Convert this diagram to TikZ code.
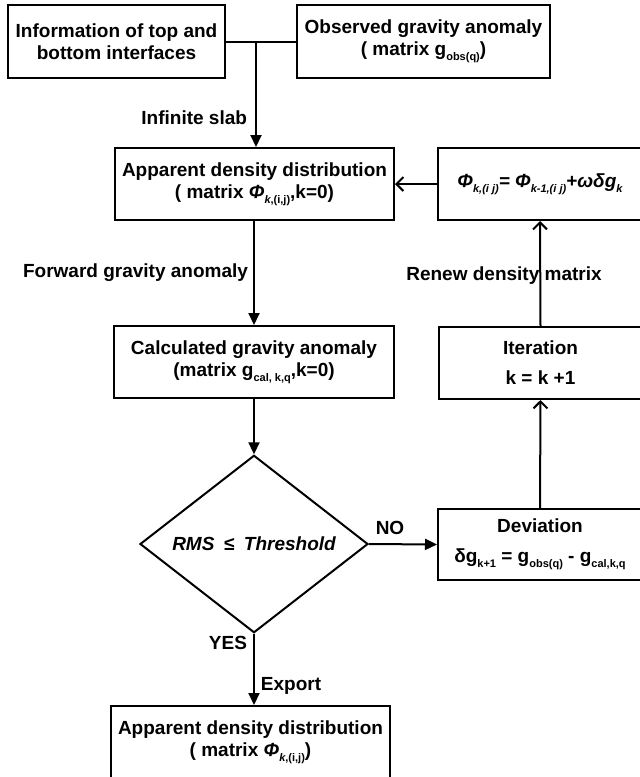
\documentclass[tikz,border=0pt]{standalone}
\usepackage{fontspec}
\setmainfont{Liberation Sans}
\usetikzlibrary{arrows.meta,shapes.geometric}
\newcommand\subx[1]{\raisebox{-0.28em}{\fontsize{11}{11}\selectfont #1}}
\tikzset{
  box/.style={draw, rectangle, inner sep=0pt, align=center},
  lbl/.style={inner sep=0pt},
  fwd/.style={-{Triangle[length=12pt,width=11pt]}},
  back/.style={-{Straight Barb[length=7pt,width=14pt]}}
}
\begin{document}
\begin{tikzpicture}[x=1pt,y=-1pt,line width=2pt,
  font=\fontsize{19}{22}\selectfont\bfseries]
\useasboundingbox (0,0) rectangle (640,777);
% nodes
\node[box, minimum width=217pt, minimum height=73pt] (info) at (116.5,41.5)
  {Information of top and\\bottom interfaces};
\node[box, minimum width=253pt, minimum height=73pt] (obs) at (423.5,41.5)
  {Observed gravity anomaly\\( matrix g\subx{obs(q)})};
\node[box, minimum width=279pt, minimum height=72pt] (app) at (254.5,184)
  {Apparent density distribution\\( matrix \textit{Φ}\subx{\textit{k},(i,j)},k=0)};
\node[box, minimum width=204pt, minimum height=72pt] (phi) at (540,184)
  {\itshape Φ\subx{k,(i j)}= Φ\subx{k-1,(i j)}+ωδg\subx{k}};
\node[box, minimum width=280pt, minimum height=72pt] (calc) at (254,362)
  {Calculated gravity anomaly\\(matrix g\subx{cal, k,q},k=0)};
\node[box, minimum width=203pt, minimum height=72pt] (iter) at (540.5,363)
  {Iteration\\[8pt]k = k +1};
\node[draw, diamond, inner sep=0pt, minimum width=228pt, minimum height=146pt] (dec) at (254,544)
  {\itshape RMS\enspace≤\enspace Threshold};
\node[box, minimum width=204pt, minimum height=71pt] (dev) at (540,544.5)
  {Deviation\\[8pt]δg\subx{k+1} = g\subx{obs(q)} - g\subx{cal,k,q}};
\node[box, minimum width=279pt, minimum height=73pt] (final) at (250.5,742.5)
  {Apparent density distribution\\( matrix \textit{Φ}\subx{\textit{k},(i,j)})};
% junction
\coordinate (j) at (256,41.5);
\draw (info.east) -- (obs.west);
\draw[fwd] (j) -- (j |- app.north);
\draw[back] (phi.west) -- (app.east);
\draw[fwd] (app.south -| 254,0) -- (calc.north);
\draw[fwd] (calc.south) -- (dec.north);
\draw[fwd] (dec.east) -- (dev.west);
\draw[back] (dev.north) -- (iter.south);
\draw[back] (iter.north) -- (phi.south);
\draw[fwd] (dec.south) -- (dec.south |- final.north);
% labels
\node[lbl, anchor=east] (l1) at (248,118) {Infinite slab};
\node[lbl, anchor=east] (l2) at (249,273) {Forward gravity anomaly};
\node[lbl] (l3) at (504,276) {Renew density matrix};
\node[lbl] (l4) at (390,528) {NO};
\node[lbl] (l5) at (228,643) {YES};
\node[lbl] (l6) at (291,686) {Export};
\end{tikzpicture}
\end{document}
